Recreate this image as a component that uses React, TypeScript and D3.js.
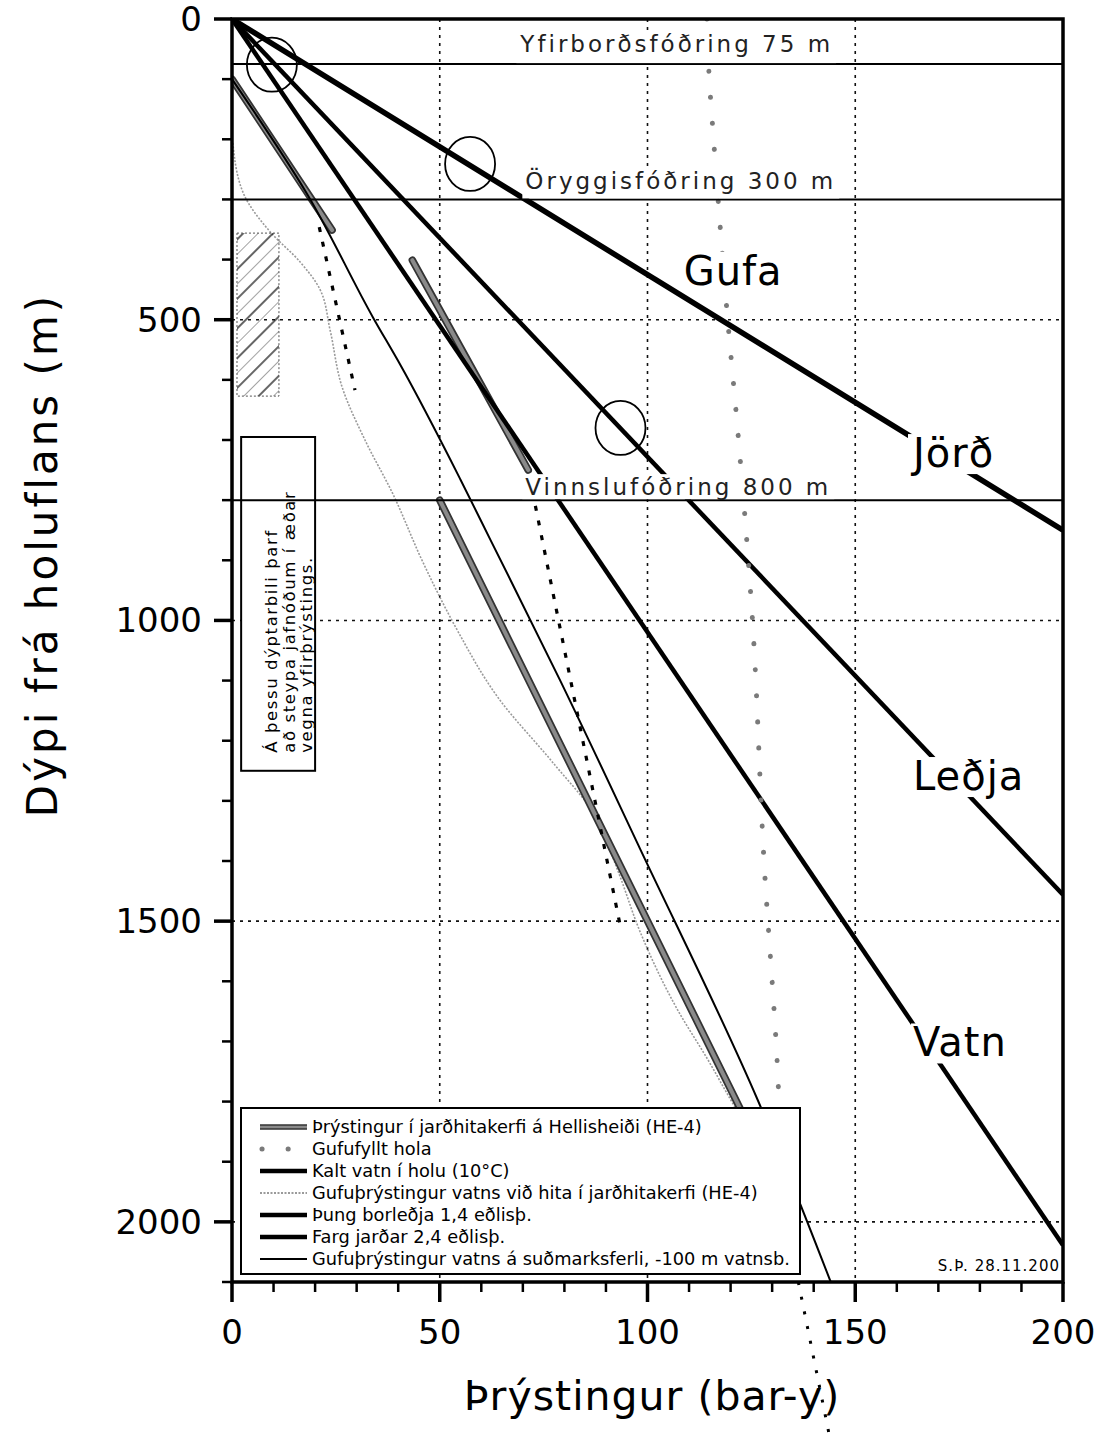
import { useEffect, useRef } from 'react';
import * as d3 from 'd3';

const W = 1102;
const H = 1442;

// [pressure bar, depth m] pairs
const jordLine = [[0, 0], [200, 850]];
const ledjaLine = [[0, 0], [200, 1456]];
const vatnLine = [[0, 0], [200, 2039]];
const sudmarkLine = [
  [0, 100], [18, 290], [34, 497], [40.5, 575], [55, 766], [62.2, 866],
  [79, 1100], [98.3, 1381], [126.5, 1797], [144.1, 2100],
];
const he4Segments = [
  [[0, 100], [24.1, 351]],
  [[43.4, 401], [71.3, 750]],
  [[50, 800], [128.6, 1900]],
];
const he4Steam = [
  [0.2, 206], [2.7, 289], [9.2, 354], [16.4, 404], [21.2, 450], [23.6, 517],
  [26.5, 612], [32, 700], [38.6, 788], [46, 904], [54.2, 1016], [63.9, 1127],
  [77.3, 1237], [87, 1320], [92.8, 1415], [98.3, 1519], [107.2, 1647],
  [114.5, 1730], [120.7, 1805], [123.6, 1838],
];
const gufufyllt = [
  [114.3, 0], [114.8, 90], [115.9, 200], [117.1, 310], [119.3, 500],
  [121.7, 683], [125.3, 1004], [128, 1395], [131.3, 1747], [132.6, 1980], [133.3, 2100],
];
const dottedSegments = [
  [[21, 346], [29.6, 617]],
  [[72.3, 785], [93.3, 1503]],
];
const dottedBelowAxis = [[136.3, 2100], [144.2, 2370]];

const casingDepths = [75, 300, 800];
const casingLabels = ['Yfirborðsfóðring 75 m', 'Öryggisfóðring 300 m', 'Vinnslufóðring 800 m'];
const casingLabelAt = [[69.4, 75], [70.6, 300], [70.6, 800]];

const circleCenters = [[9.6, 76], [57.3, 241], [93.5, 680]];

const curveNames = ['Gufa', 'Jörð', 'Leðja', 'Vatn'];
const curveNameAt = [[108.7, 442], [163.9, 745], [163.9, 1282], [163.9, 1725]];

const hatchZone = [[1.2, 356], [11.3, 627]];
const noteZone = [[2.2, 695], [20, 1250]];
const noteLines = ['Á þessu dýptarbili þarf', 'að steypa jafnóðum í æðar', 'vegna yfirþrýstings.'];

const xTickLabels = [0, 50, 100, 150, 200];
const yTickLabels = [0, 500, 1000, 1500, 2000];

const legendLabels = [
  'Þrýstingur í jarðhitakerfi á Hellisheiði (HE-4)',
  'Gufufyllt hola',
  'Kalt vatn í holu (10°C)',
  'Gufuþrýstingur vatns við hita í jarðhitakerfi (HE-4)',
  'Þung borleðja 1,4 eðlisþ.',
  'Farg jarðar 2,4 eðlisþ.',
  'Gufuþrýstingur vatns á suðmarksferli, -100 m vatnsb.',
];
const legendStyles = ['he4', 'gufufyllt', 'vatn', 'steam', 'ledja', 'jord', 'thin'];

const FONT = '"DejaVu Sans", Arial, sans-serif';

const App = () => {
  const svgRef = useRef(null);

  useEffect(() => {
    const svg = d3.select(svgRef.current);
    svg.selectAll('*').remove();

    const x = d3.scaleLinear().domain([0, 200]).range([232, 1063]);
    const y = d3.scaleLinear().domain([0, 2100]).range([19, 1282]);

    const defs = svg.append('defs');
    defs.append('clipPath').attr('id', 'plot')
      .append('rect')
      .attr('x', x(0)).attr('y', y(0))
      .attr('width', x(200) - x(0)).attr('height', y(2100) - y(0));

    const pat = defs.append('pattern')
      .attr('id', 'hatch')
      .attr('patternUnits', 'userSpaceOnUse')
      .attr('width', 21).attr('height', 21)
      .attr('patternTransform', 'rotate(45)');
    pat.append('line').attr('x1', 1).attr('x2', 1).attr('y1', 0).attr('y2', 21)
      .attr('stroke', '#000').attr('stroke-width', 1.2);
    pat.append('line').attr('x1', 11.5).attr('x2', 11.5).attr('y1', 0).attr('y2', 21)
      .attr('stroke', '#999').attr('stroke-width', 0.9);

    const line = d3.line<number[]>()
      .x(d => x(d[0]))
      .y(d => y(d[1]))
      .curve(d3.curveMonotoneY);

    const plot = svg.append('g').attr('clip-path', 'url(#plot)');

    // grid
    [50, 100, 150].forEach(v => {
      plot.append('line')
        .attr('x1', x(v)).attr('x2', x(v)).attr('y1', y(0)).attr('y2', y(2100))
        .attr('stroke', '#111').attr('stroke-width', 1.6).attr('stroke-dasharray', '3,5');
    });
    [500, 1000, 1500, 2000].forEach(v => {
      plot.append('line')
        .attr('x1', x(0)).attr('x2', x(200)).attr('y1', y(v)).attr('y2', y(v))
        .attr('stroke', '#111').attr('stroke-width', 1.6).attr('stroke-dasharray', '3,5');
    });

    const styleLine = (sel, kind) => {
      if (kind === 'jord') sel.attr('stroke', '#000').attr('stroke-width', 5.5);
      if (kind === 'ledja') sel.attr('stroke', '#000').attr('stroke-width', 4.5);
      if (kind === 'vatn') sel.attr('stroke', '#000').attr('stroke-width', 4.5);
      if (kind === 'thin') sel.attr('stroke', '#000').attr('stroke-width', 2);
      if (kind === 'steam') sel.attr('stroke', '#9a9a9a').attr('stroke-width', 1.6).attr('stroke-dasharray', '2,1.5');
      if (kind === 'gufufyllt') sel.attr('stroke', '#7a7a7a').attr('stroke-width', 5)
        .attr('stroke-linecap', 'round').attr('stroke-dasharray', '0.1,26');
      if (kind === 'dotted') sel.attr('stroke', '#000').attr('stroke-width', 3.2).attr('stroke-dasharray', '5,10');
      return sel.attr('fill', 'none');
    };

    // steam pressure at HE-4 temperatures
    styleLine(plot.append('path').attr('d', line(he4Steam)), 'steam');

    // HE-4 reservoir pressure
    he4Segments.forEach(seg => {
      plot.append('path').attr('d', line(seg)).attr('fill', 'none')
        .attr('stroke', '#333').attr('stroke-width', 7.5).attr('stroke-linecap', 'round');
      plot.append('path').attr('d', line(seg)).attr('fill', 'none')
        .attr('stroke', '#8a8a8a').attr('stroke-width', 4).attr('stroke-linecap', 'round');
    });

    styleLine(plot.append('path').attr('d', line(sudmarkLine)), 'thin');
    styleLine(plot.append('path').attr('d', line(vatnLine)), 'vatn');
    styleLine(plot.append('path').attr('d', line(ledjaLine)), 'ledja');
    styleLine(plot.append('path').attr('d', line(jordLine)), 'jord');
    dottedSegments.forEach(seg => styleLine(plot.append('path').attr('d', line(seg)), 'dotted'));
    styleLine(plot.append('path').attr('d', line(gufufyllt)), 'gufufyllt');

    // dotted line continuing below the axis
    styleLine(svg.append('path').attr('d', line(dottedBelowAxis)), 'dotted')
      .attr('stroke-width', 3).attr('stroke-dasharray', '3,12');

    // circles
    circleCenters.forEach(c => {
      svg.append('ellipse')
        .attr('cx', x(c[0])).attr('cy', y(c[1]))
        .attr('rx', 25).attr('ry', 27)
        .attr('fill', 'none').attr('stroke', '#000').attr('stroke-width', 1.8);
    });

    // hatched zone
    svg.append('rect')
      .attr('x', x(hatchZone[0][0])).attr('y', y(hatchZone[0][1]))
      .attr('width', x(hatchZone[1][0]) - x(hatchZone[0][0]))
      .attr('height', y(hatchZone[1][1]) - y(hatchZone[0][1]))
      .attr('fill', 'url(#hatch)')
      .attr('stroke', '#555').attr('stroke-width', 1).attr('stroke-dasharray', '2,2');

    // note box
    const nx0 = x(noteZone[0][0]);
    const nx1 = x(noteZone[1][0]);
    const ny0 = y(noteZone[0][1]);
    const ny1 = y(noteZone[1][1]);
    svg.append('rect')
      .attr('x', nx0).attr('y', ny0).attr('width', nx1 - nx0).attr('height', ny1 - ny0)
      .attr('fill', '#fff').attr('stroke', '#000').attr('stroke-width', 2);
    noteLines.forEach((t, i) => {
      const bx = nx0 + 36 + i * 17.5;
      const by = ny1 - 18;
      svg.append('text')
        .attr('transform', `translate(${bx},${by}) rotate(-90)`)
        .attr('font-family', FONT).attr('font-size', 16.5).attr('letter-spacing', 1.6)
        .text(t);
    });

    // curve names, knocked out of the lines behind them
    curveNames.forEach((n, i) => {
      const g = svg.append('g');
      const t = g.append('text')
        .attr('x', x(curveNameAt[i][0])).attr('y', y(curveNameAt[i][1]))
        .attr('font-family', FONT).attr('font-size', 40).attr('letter-spacing', 1)
        .text(n);
      const bb = (t.node() as SVGTextElement).getBBox();
      g.insert('rect', 'text')
        .attr('x', bb.x - 2).attr('y', bb.y + 4).attr('width', bb.width + 4).attr('height', bb.height - 6)
        .attr('fill', '#fff');
    });

    // casing lines and labels
    const labelOffsets = [-12, -10, -5];
    casingDepths.forEach((d, i) => {
      svg.append('line')
        .attr('x1', x(0)).attr('x2', x(200)).attr('y1', y(d)).attr('y2', y(d))
        .attr('stroke', '#000').attr('stroke-width', 2);
      const g = svg.append('g');
      const t = g.append('text')
        .attr('x', x(casingLabelAt[i][0])).attr('y', y(casingLabelAt[i][1]) + labelOffsets[i])
        .attr('font-family', FONT).attr('font-size', 23).attr('letter-spacing', 3)
        .attr('fill', '#222')
        .text(casingLabels[i]);
      const bb = (t.node() as SVGTextElement).getBBox();
      g.insert('rect', 'text')
        .attr('x', bb.x - 3).attr('y', bb.y).attr('width', bb.width + 6)
        .attr('height', y(d) - 1 - bb.y)
        .attr('fill', '#fff');
    });

    // legend
    const lg = svg.append('g');
    lg.append('rect')
      .attr('x', 241).attr('y', 1108).attr('width', 559).attr('height', 166)
      .attr('fill', '#fff').attr('stroke', '#000').attr('stroke-width', 2);
    legendLabels.forEach((lab, i) => {
      const cy = 1127 + i * 22;
      const kind = legendStyles[i];
      if (kind === 'he4') {
        lg.append('line').attr('x1', 260).attr('x2', 307).attr('y1', cy).attr('y2', cy)
          .attr('stroke', '#333').attr('stroke-width', 5.5);
        lg.append('line').attr('x1', 260).attr('x2', 307).attr('y1', cy).attr('y2', cy)
          .attr('stroke', '#8a8a8a').attr('stroke-width', 2.5);
      } else if (kind === 'gufufyllt') {
        styleLine(lg.append('path').attr('d', `M262,${cy}H292`), kind);
      } else {
        styleLine(lg.append('path').attr('d', `M260,${cy}H307`), kind)
          .attr('stroke-width', kind === 'thin' ? 2 : kind === 'steam' ? 2 : 4.5);
      }
      lg.append('text')
        .attr('x', 312).attr('y', cy + 6)
        .attr('font-family', FONT).attr('font-size', 17.8)
        .text(lab);
    });

    // frame
    svg.append('rect')
      .attr('x', x(0)).attr('y', y(0))
      .attr('width', x(200) - x(0)).attr('height', y(2100) - y(0))
      .attr('fill', 'none').attr('stroke', '#000').attr('stroke-width', 3.5);

    // ticks
    d3.range(0, 2101, 100).forEach(v => {
      const major = v % 500 === 0;
      svg.append('line')
        .attr('x1', x(0) - (major ? 18 : 10)).attr('x2', x(0))
        .attr('y1', y(v)).attr('y2', y(v))
        .attr('stroke', '#000').attr('stroke-width', major ? 3.5 : 2.5);
    });
    d3.range(0, 201, 10).forEach(v => {
      const major = v % 50 === 0;
      svg.append('line')
        .attr('x1', x(v)).attr('x2', x(v))
        .attr('y1', y(2100)).attr('y2', y(2100) + (major ? 20 : 10))
        .attr('stroke', '#000').attr('stroke-width', major ? 3.5 : 2.5);
    });
    yTickLabels.forEach(v => {
      svg.append('text')
        .attr('x', 202).attr('y', y(v) + 12)
        .attr('text-anchor', 'end')
        .attr('font-family', FONT).attr('font-size', 34)
        .text(v);
    });
    xTickLabels.forEach(v => {
      svg.append('text')
        .attr('x', x(v)).attr('y', 1344)
        .attr('text-anchor', 'middle')
        .attr('font-family', FONT).attr('font-size', 34)
        .text(v);
    });

    // axis titles
    svg.append('text')
      .attr('transform', 'translate(57,555) rotate(-90)')
      .attr('text-anchor', 'middle')
      .attr('font-family', FONT).attr('font-size', 42).attr('letter-spacing', 3)
      .text('Dýpi frá holuflans (m)');
    svg.append('text')
      .attr('x', 652).attr('y', 1410)
      .attr('text-anchor', 'middle')
      .attr('font-family', FONT).attr('font-size', 41).attr('letter-spacing', 1)
      .text('Þrýstingur (bar-y)');

    svg.append('text')
      .attr('x', 1060).attr('y', 1271)
      .attr('text-anchor', 'end')
      .attr('font-family', FONT).attr('font-size', 15).attr('letter-spacing', 1)
      .text('S.Þ. 28.11.200');
  }, []);

  return (
    <svg
      ref={svgRef}
      width={W}
      height={H}
      style={{ position: 'absolute', left: 0, top: 0, background: '#fff' }}
    />
  );
};

export default App;
